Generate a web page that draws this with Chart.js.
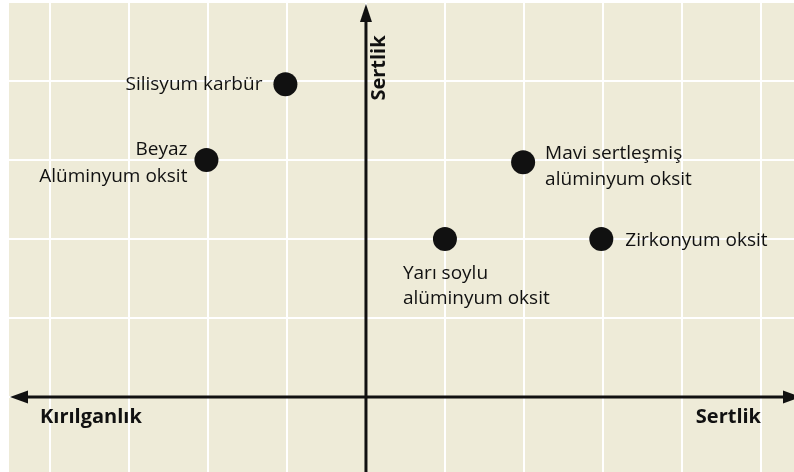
<!DOCTYPE html>
<html lang="tr">
<head>
    <meta charset="UTF-8">
    <title>Sertlik / Kırılganlık</title>
    <script src="https://cdn.jsdelivr.net/npm/chart.js"></script>
    <style>
        body { margin: 0; background: #ffffff; }
        #chart { display: block; }
    </style>
</head>
<body>
    <canvas id="chart" width="794" height="472"></canvas>

    <script>
        // malzemeler ve konumlari (grid birimi)
        const materials = [
            ["Silisyum karbür"],
            ["Beyaz", "Alüminyum oksit"],
            ["Mavi sertleşmiş", "alüminyum oksit"],
            ["Yarı soylu", "alüminyum oksit"],
            ["Zirkonyum oksit"]
        ];
        const xValues = [-1.02, -2.02, 1.99, 1.0, 2.98];
        const yValues = [3.96, 3.0, 2.97, 2.0, 2.0];

        const xAxisLabelLeft = "Kırılganlık";
        const xAxisLabelRight = "Sertlik";
        const yAxisLabel = "Sertlik";

        const bg = "#eeebd8";
        const ink = "#111111";

        // label placement relative to the dot: text align, dx, baseline dy per line
        const labelPlace = [
            { align: "right", dx: -23, dy: [6] },
            { align: "right", dx: -19, dy: [-5, 22] },
            { align: "left", dx: 22, dy: [-3, 23] },
            { align: "left", dx: -42, dy: [40, 65] },
            { align: "left", dx: 24, dy: [7] }
        ];

        const points = xValues.map((x, i) => ({ x: x, y: yValues[i] }));

        const backgroundPlugin = {
            id: "bg",
            beforeDraw(chart) {
                const { ctx, chartArea: a } = chart;
                ctx.save();
                ctx.fillStyle = bg;
                ctx.fillRect(a.left, a.top, a.right - a.left, a.bottom - a.top);
                ctx.restore();
            }
        };

        const axesPlugin = {
            id: "axes",
            beforeDatasetsDraw(chart) {
                const { ctx, chartArea: a, scales } = chart;
                const x0 = scales.x.getPixelForValue(0);
                const y0 = scales.y.getPixelForValue(0);
                ctx.save();
                ctx.strokeStyle = ink;
                ctx.fillStyle = ink;
                ctx.lineWidth = 3;

                // horizontal axis
                ctx.beginPath();
                ctx.moveTo(a.left + 14, y0);
                ctx.lineTo(a.right, y0);
                ctx.stroke();
                // vertical axis
                ctx.beginPath();
                ctx.moveTo(x0, a.top + 14);
                ctx.lineTo(x0, a.bottom);
                ctx.stroke();

                // arrow heads
                ctx.beginPath();
                ctx.moveTo(a.left + 1, y0);
                ctx.lineTo(a.left + 19, y0 - 6.5);
                ctx.lineTo(a.left + 19, y0 + 6.5);
                ctx.closePath();
                ctx.fill();

                ctx.beginPath();
                ctx.moveTo(a.right + 7, y0);
                ctx.lineTo(a.right - 11, y0 - 6.5);
                ctx.lineTo(a.right - 11, y0 + 6.5);
                ctx.closePath();
                ctx.fill();

                ctx.beginPath();
                ctx.moveTo(x0, a.top + 2);
                ctx.lineTo(x0 - 6, a.top + 20);
                ctx.lineTo(x0 + 6, a.top + 20);
                ctx.closePath();
                ctx.fill();

                // axis titles
                ctx.font = "bold 20px 'Open Sans'";
                ctx.textBaseline = "middle";
                ctx.textAlign = "left";
                ctx.fillText(xAxisLabelLeft, a.left + 31, y0 + 20);
                ctx.textAlign = "right";
                ctx.fillText(xAxisLabelRight, a.right - 33, y0 + 20);

                ctx.translate(x0 + 13, a.top + 66);
                ctx.rotate(-Math.PI / 2);
                ctx.textAlign = "center";
                ctx.fillText(yAxisLabel, 0, 0);
                ctx.restore();
            }
        };

        const labelPlugin = {
            id: "pointLabels",
            afterDatasetsDraw(chart) {
                const { ctx } = chart;
                const meta = chart.getDatasetMeta(0);
                ctx.save();
                ctx.font = "19px 'Open Sans'";
                ctx.fillStyle = ink;
                ctx.textBaseline = "alphabetic";
                meta.data.forEach((pt, i) => {
                    const p = labelPlace[i];
                    ctx.textAlign = p.align;
                    materials[i].forEach((line, j) => {
                        ctx.fillText(line, pt.x + p.dx, pt.y + p.dy[j]);
                    });
                });
                ctx.restore();
            }
        };

        // integer grid lines only
        function integerTicks(scale) {
            const ticks = [];
            for (let v = Math.ceil(scale.min); v <= Math.floor(scale.max); v++) {
                ticks.push({ value: v });
            }
            scale.ticks = ticks;
        }

        const gridOpts = {
            color: "#ffffff",
            lineWidth: 2,
            drawTicks: false
        };

        new Chart(document.getElementById("chart").getContext("2d"), {
            type: "scatter",
            data: {
                datasets: [{
                    data: points,
                    backgroundColor: ink,
                    borderWidth: 0,
                    pointRadius: 12,
                    pointHoverRadius: 12
                }]
            },
            options: {
                responsive: false,
                animation: false,
                events: [],
                layout: { autoPadding: false, padding: { left: 9, top: 2, right: 0, bottom: 0 } },
                plugins: {
                    legend: { display: false },
                    tooltip: { enabled: false }
                },
                scales: {
                    x: {
                        type: "linear",
                        min: -4.52,
                        max: 5.42,
                        afterBuildTicks: integerTicks,
                        grid: gridOpts,
                        border: { display: false },
                        ticks: { display: false }
                    },
                    y: {
                        type: "linear",
                        min: -0.95,
                        max: 5.0,
                        afterBuildTicks: integerTicks,
                        grid: gridOpts,
                        border: { display: false },
                        ticks: { display: false }
                    }
                }
            },
            plugins: [backgroundPlugin, axesPlugin, labelPlugin]
        });
    </script>
</body>
</html>
